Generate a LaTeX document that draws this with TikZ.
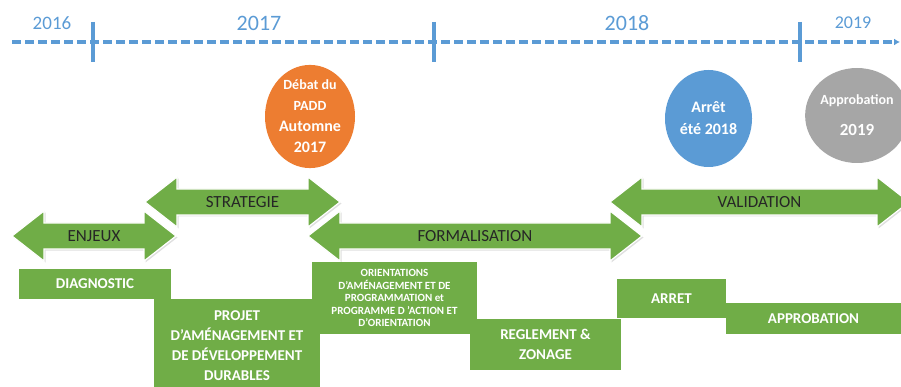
\documentclass[tikz,border=0pt]{standalone}
\usepackage{fontspec}
\setmainfont{Carlito}
\usetikzlibrary{arrows.meta,shapes.geometric,shadows}

\definecolor{phasegreen}{HTML}{70AD47}
\definecolor{yearblue}{HTML}{5B9BD5}
\definecolor{paddorange}{HTML}{ED7D31}
\definecolor{approgray}{HTML}{A6A6A6}

\tikzset{
  timeline/.style={yearblue, line width=3.2pt, dash pattern=on 9pt off 4pt, -{Latex[length=6pt,width=7pt]}},
  yeartick/.style={yearblue, line width=3.2pt},
  year/.style={text=yearblue, inner sep=0pt},
  milestone/.style={ellipse, inner sep=0pt, text=white, align=center},
  phase/.style={fill=phasegreen, draw=white, line width=1.2pt,
    drop shadow={opacity=.25, shadow xshift=1.5pt, shadow yshift=-1.5pt}},
  phaselabel/.style={font=\fontsize{17}{20}\selectfont, text=black!85, inner sep=0pt},
  stepbox/.style={fill=phasegreen, text=white, font=\bfseries\fontsize{15}{20}\selectfont, align=center, inner sep=0pt},
}

% double arrow: name, left tip, right tip, middle, label
\newcommand{\phasearrow}[5]{%
  \fill[phase] (#2,#4) -- (#2+32,#4-25) -- (#2+32,#4-13) -- (#3-32,#4-13) -- (#3-32,#4-25)
    -- (#3,#4) -- (#3-32,#4+25) -- (#3-32,#4+13) -- (#2+32,#4+13) -- (#2+32,#4+25) -- cycle;
  \node[phaselabel] (#1) at ({(#2+#3)/2},#4) {#5};
}

\begin{document}
\begin{tikzpicture}[x=1pt, y=-1pt]
\path[use as bounding box, clip] (0,0) rectangle (901,387);

% time axis
\coordinate (tlstart) at (12,42);
\coordinate (tlend) at (900,42);
\draw[timeline] (tlstart) -- (tlend);
\foreach \x/\n in {93/a,434/b,800/c} {
  \coordinate (top\n) at (\x,22);
  \coordinate (bot\n) at (\x,62);
  \draw[yeartick] (top\n) -- (bot\n);
}
\node[year, font=\fontsize{19}{22}\selectfont] (y2016) at (52,23) {2016};
\node[year, font=\fontsize{22}{26}\selectfont] (y2017) at (259,23) {2017};
\node[year, font=\fontsize{22}{26}\selectfont] (y2018) at (627,23) {2018};
\node[year, font=\fontsize{18}{22}\selectfont] (y2019) at (853,23) {2019};

% milestones
\node[milestone, fill=paddorange, minimum width=90pt, minimum height=97pt,
  font=\bfseries\fontsize{16}{21}\selectfont] (padd) at (310,116.5)
  {{\fontsize{14}{18}\selectfont Débat du}\\{\fontsize{14}{18}\selectfont PADD}\\Automne\\2017};
\node[milestone, fill=yearblue, minimum width=87pt, minimum height=97pt,
  font=\bfseries\fontsize{16}{22}\selectfont] (arret) at (708.5,118.5)
  {Arrêt\\été 2018};
\node[milestone, fill=approgray, minimum width=84pt, minimum height=95pt,
  font=\bfseries\fontsize{17}{23}\selectfont] (appro) at (857,115.5)
  {{\fontsize{14}{18}\selectfont Approbation}\\[8pt]2019};

% phases
\phasearrow{enjeux}{12}{176}{236}{ENJEUX}
\phasearrow{strategie}{145}{340}{202}{STRATEGIE}
\phasearrow{formal}{308}{642}{236}{FORMALISATION}
\phasearrow{valid}{610}{909}{202}{VALIDATION}

% documents
\node[stepbox, minimum width=152pt, minimum height=30pt] (diag) at (95,284) {DIAGNOSTIC};
\node[stepbox, minimum width=166pt, minimum height=94pt] (padddoc) at (237,346)
  {PROJET\\D’AMÉNAGEMENT ET\\DE DÉVELOPPEMENT\\DURABLES};
\node[stepbox, minimum width=165pt, minimum height=72pt, font=\bfseries\fontsize{11}{12.5}\selectfont] (oap) at (394.5,298)
  {ORIENTATIONS\\D’AMÉNAGEMENT ET DE\\PROGRAMMATION et\\PROGRAMME D ’ACTION ET\\D’ORIENTATION};
\node[stepbox, minimum width=151pt, minimum height=51pt] (regl) at (545.5,344.5) {REGLEMENT \&\\ZONAGE};
\node[stepbox, minimum width=109pt, minimum height=39pt] (arretdoc) at (671.5,298.5) {ARRET};
\node[stepbox, minimum width=175pt, minimum height=31pt] (approdoc) at (813.5,318.5) {APPROBATION};
\end{tikzpicture}
\end{document}
